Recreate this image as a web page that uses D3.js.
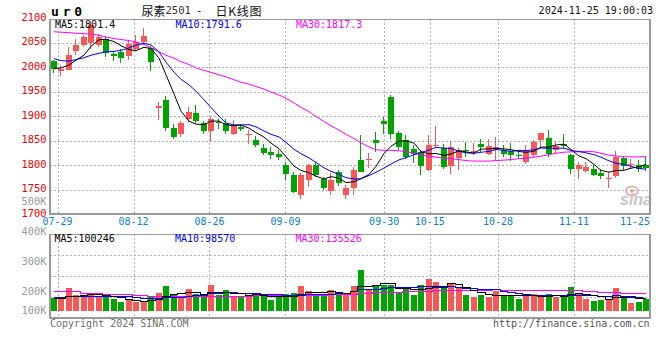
<!DOCTYPE html>
<html><head><meta charset="utf-8">
<script src="https://cdn.jsdelivr.net/npm/d3@7"></script>
<style>html,body{margin:0;padding:0;background:#fff;}svg{display:block;}</style>
</head><body><svg id="c" width="660" height="360"></svg>
<script>
// ---------- data ----------
const dates = ["07-26","07-29","07-30","07-31","08-01","08-02","08-05","08-06","08-07","08-08",
"08-09","08-12","08-13","08-14","08-15","08-16","08-19","08-20","08-21","08-22",
"08-23","08-26","08-27","08-28","08-29","08-30","09-02","09-03","09-04","09-05",
"09-06","09-09","09-10","09-11","09-12","09-13","09-18","09-19","09-20","09-23",
"09-24","09-25","09-26","09-27","09-30","10-08","10-09","10-10","10-11","10-14",
"10-15","10-16","10-17","10-18","10-21","10-22","10-23","10-24","10-25","10-28",
"10-29","10-30","10-31","11-01","11-04","11-05","11-06","11-07","11-08","11-11",
"11-12","11-13","11-14","11-15","11-18","11-19","11-20","11-21","11-22","11-25"];
const open = [2011.6,1992,1994.6,2032.7,2045.6,2049.7,2045,2057,2027,2030,
2022,2037.5,2051,2039,1917,1932,1875.6,1864,1894.6,1906,
1886,1869.4,1888,1886,1864,1877.6,1860.6,1852,1834.7,1826.6,
1821.8,1799.4,1780.3,1739.5,1770.1,1799.4,1772.2,1747,1785.8,1739.5,
1753.8,1810.9,1809.6,1851.8,1889.9,1938.8,1865.4,1850.4,1833.4,1826.6,
1790.5,1838.8,1835.4,1798,1814.3,1831.3,1827.3,1843.6,1823.2,1830,
1831.3,1827.9,1821.1,1806.2,1819.8,1850.4,1855.2,1830,1842.2,1819.8,
1792.6,1787.8,1792.6,1784.4,1772.2,1777.6,1814.3,1799.4,1799.4,1799.4];
const high = [2015,2003.5,2041,2056.5,2066,2091.9,2067,2063,2032,2037.5,
2054.5,2064.7,2079.7,2043,1928.6,1941,1883,1890,1918.4,1921.8,
1890,1898,1894.6,1893,1891,1884.4,1870.8,1858.5,1843.6,1836.8,
1830,1806.2,1785.8,1783.7,1802.8,1806.2,1775.5,1783.7,1790.5,1759.9,
1795.9,1861.9,1824.5,1867.4,1898,1942.2,1868.8,1860.6,1840.2,1830,
1861.9,1879.7,1843.6,1848.4,1834.7,1847,1845.6,1853.8,1852.4,1857.2,
1840.2,1845,1830,1840.2,1850.4,1866,1872.2,1848.4,1862.6,1823.2,
1806.2,1806.2,1799.4,1792.6,1785.8,1828.6,1816.4,1813,1810.9,1816.4];
const low = [1988.5,1981.7,1993,2025.2,2040.9,2037.5,2040,2020,2011.6,2009,
2013.7,2034,2049.7,1992,1892.6,1869.4,1852.4,1857.2,1887.8,1885.8,
1864,1849,1874.2,1862.7,1862,1869.4,1843.6,1836.8,1819.8,1813,
1809.6,1770.1,1742.9,1730,1755,1775.5,1749.7,1738.2,1756.5,1731.4,
1739.5,1785,1794.6,1826.6,1864,1853.8,1830,1813,1804.8,1780.3,
1787.1,1834.7,1792.6,1782.4,1790.5,1816.4,1819.8,1826.6,1819.8,1809.6,
1816.4,1807.5,1813,1802.8,1816.4,1834.7,1816.4,1823.2,1834.7,1782.4,
1772.2,1785.8,1777.6,1772.2,1753.8,1774.2,1789.2,1792.6,1785.8,1787.8];
const close = [1995.3,1995.3,2025.2,2044.3,2061.3,2085.1,2062,2029,2022,2019,
2046,2051,2063,2010,1920,1876,1857.2,1886,1908,1890,
1869.4,1894.6,1886,1869.4,1882.4,1874.2,1864,1840.2,1824.5,1821.1,
1816.4,1782.4,1744.9,1779,1799.4,1780.3,1753.8,1768.8,1763.3,1753.8,
1789.2,1785.8,1811.6,1845.6,1884.4,1864,1836.8,1816.4,1821.8,1798,
1840.2,1841.6,1795.9,1836.8,1830,1829.3,1829.3,1836.8,1838.8,1836.8,
1823.2,1821.1,1818.4,1830,1847,1865.4,1823.2,1838.8,1838.1,1792.6,
1799.4,1796,1780.3,1776.9,1774.2,1816.4,1798,1801.4,1792.6,1794.6];
const ma5 = [1997,1998,2004,2014,2024.3,2042.2,2055.6,2056.3,2051.9,2043.4,
2035.6,2033.4,2040.2,2037.8,2018,1984,1945.2,1909.8,1889.4,1883.4,
1882.1,1889.6,1889.6,1881.9,1880.4,1881.3,1875.2,1866,1857.1,1844.8,
1833.2,1816.9,1797.9,1788.8,1784.4,1777.2,1771.5,1776.3,1773.1,1764,
1765.8,1772.2,1780.7,1797.2,1823.3,1838.3,1848.5,1849.4,1844.7,1827.4,
1822.6,1823.6,1819.5,1822.5,1828.9,1826.7,1824.3,1832.4,1832.8,1834.2,
1833,1831.3,1827.7,1825.9,1827.9,1836.4,1836.8,1840.9,1842.5,1831.6,
1818.4,1813,1801.3,1789,1785.4,1788.8,1789.2,1793.4,1796.5,1801.4];
const ma10 = [2017,2013,2012,2015,2019,2024,2028,2031,2032,2033.9,
2038.9,2044.5,2048.3,2044.9,2030.7,2009.8,1989.3,1975,1963.6,1950.7,
1933,1917.4,1899.7,1885.7,1881.9,1881.7,1882.4,1877.8,1869.5,1862.6,
1857.3,1846.1,1832,1823,1814.6,1805.2,1794.2,1787.1,1781,1774.2,
1771.5,1771.9,1778.5,1785.2,1793.7,1802.1,1810.4,1815.1,1821,1825.4,
1830.5,1836.1,1834.5,1833.6,1828.2,1824.7,1824,1826,1827.7,1831.6,
1829.9,1827.8,1830.1,1829.4,1831.1,1834.7,1834.1,1834.3,1834.2,1829.8,
1827.4,1824.9,1821.1,1815.8,1808.5,1803.6,1801.1,1797.4,1792.8,1791.6];
const ma30 = [2072,2071,2070,2069,2068,2067,2065,2061,2058,2056,
2054,2051,2046,2039,2031,2024,2018,2011,2005,1998,
1993,1989,1984,1980,1974,1969,1965,1960,1955,1949,
1943,1936,1926.6,1917.8,1909,1899,1888.6,1880,1871.3,1862.5,
1854,1845,1837,1831,1830,1830,1829,1827,1824,1820.7,
1818,1816,1814,1813,1811,1809,1808,1808,1808,1809,
1810,1811,1813,1814,1816,1818,1821,1824,1826,1827,
1827,1828,1827,1824,1820,1818.5,1817,1816.5,1816.5,1817.3];
const volume = [100,100,177,121,108,128,108,121,88,69,
82,69,65,108,138,192,121,108,167,128,
108,198,121,159,108,108,121,136,113,82,
108,128,136,190,154,126,126,159,136,136,
190,313,165,190,198,198,138,165,121,198,
244,223,180,205,180,121,108,121,108,150,
121,121,90,128,128,108,128,108,108,185,
138,90,77,82,82,177,108,62,69,90].map(v => v * 1000);
const vma5 = [96,97,110,115,121.2,126.8,128.4,117.2,110.6,102.8,
93.6,85.8,74.6,78.6,92.4,114.4,124.8,133.4,145.2,143.2,
126.4,141.8,144.4,142.8,138.8,138.8,123.4,126.4,117.2,112,
112,113.4,113.4,128.8,143.2,146.8,146.4,151,140.2,136.6,
149.4,186.8,188,198.8,211.2,212.8,177.8,177.8,164,164,
173.2,190.2,193.2,210,206.4,181.8,158.8,147,127.6,121.6,
121.6,124.2,118,122,117.6,115,116.4,120,116,127.4,
133.4,125.8,119.6,114.4,93.8,101.6,105.2,102.2,99.6,100.246].map(v => v * 1000);
const vma10 = [108,106,110,112,113,114,115,116,116,112,
110.2,107.1,95.9,94.6,97.6,104,105.3,104,111.9,117.8,
120.4,133.3,138.9,144,141,132.6,132.6,135.4,130,125.4,
125.4,118.4,119.9,123,127.6,129.4,129.9,132.2,134.5,139.9,
148.1,166.6,169.5,169.5,173.9,181.1,182.3,182.9,181.4,187.6,
193,184,185.5,187,185.2,177.5,174.5,170.1,168.8,164,
151.7,141.5,132.5,124.8,119.6,118.3,120.3,119,119,122.5,
124.2,121.1,119.8,115.2,110.6,117.5,115.5,110.9,107,98.57].map(v => v * 1000);
const vma30 = [152,152,151,151,134,134,134,130,126,126,
126,124,120,116,116,114,112,112,112,112,
112,113,113,114,114,115,116,117,117,118,
118,119,120,122,123,124,124,125,126,128,
131,138,140,142,144,146,147,148,149,151,
154,157,158,160,161,161,161,162,163,164,
163,162,161,160,159,159,158,158,158,158,
156,152,148,145,143,141,140,138,137,135.526].map(v => v * 1000);
const priceTicks = [2100,2050,2000,1950,1900,1850,1800,1750,1700];
const volTicks = [500000,400000,300000,200000,100000];
const volTickLabels = ["500K","400K","300K","200K","100K"];
const dateTicks = ["07-29","08-12","08-26","09-09","09-30","10-15","10-28","11-11","11-25"];
const maLegend = [{t:"MA5:1801.4",c:"#000"},{t:"MA10:1791.6",c:"#0000ff"},{t:"MA30:1817.3",c:"#ff00ff"}];
const volLegend = [{t:"MA5:100246",c:"#000"},{t:"MA10:98570",c:"#0000ff"},{t:"MA30:135526",c:"#ff00ff"}];

// ---------- layout ----------
const L = 50, R = 650, PT = 19, PB = 214, VT = 234, VB = 318;
const mono = "'DejaVu Sans Mono','Liberation Mono',monospace";
const cjk = "'Noto Sans CJK SC',sans-serif";
const RED = "#f65858", GREEN = "#00a300";
const svg = d3.select("#c");

const xb = d3.scaleBand().domain(dates).range([L, R]).paddingInner(0.2).paddingOuter(0.1);
const xp = d3.scalePoint().domain(dates).range([L, R]);
const y = d3.scaleLinear().domain([1700, 2100]).range([214, 18]);
const yv = d3.scaleLinear().domain([0, 400000]).range([310.7, 258.7]);
const yvl = d3.scaleLinear().domain([100000, 500000]).range([320.5, 200.5]);
const bw = Math.round(xb.bandwidth());
const bx = d => Math.round(xb(d));
const cx = d => bx(d) + bw / 2;

const defs = svg.append("defs");
defs.append("clipPath").attr("id","cp").append("rect").attr("x",L).attr("y",PT).attr("width",R-L).attr("height",PB-PT);
defs.append("clipPath").attr("id","cv").append("rect").attr("x",L).attr("y",VT).attr("width",R-L).attr("height",VB-VT);

// ---------- grid ----------
const grid = svg.append("g").attr("stroke","#b4b4b4").attr("stroke-width",1).attr("stroke-dasharray","2,2").attr("shape-rendering","crispEdges");
grid.selectAll(".hg").data(priceTicks.filter(v => v < 2100 && v > 1700)).join("line")
  .attr("x1",L).attr("x2",R).attr("y1",d => Math.round(y(d))+0.5).attr("y2",d => Math.round(y(d))+0.5);
grid.selectAll(".vg").data(dateTicks.slice(0,-1)).join("line")
  .attr("x1",d => Math.round(xp(d))+0.5).attr("x2",d => Math.round(xp(d))+0.5).attr("y1",PT).attr("y2",PB);
grid.selectAll(".vg2").data(dateTicks.slice(0,-1)).join("line")
  .attr("x1",d => Math.round(xp(d))+0.5).attr("x2",d => Math.round(xp(d))+0.5).attr("y1",VT).attr("y2",VB);
const vq = d3.scaleLinear().domain([0,4]).range([VT,VB]);
grid.selectAll(".vh").data([1,2,3]).join("line")
  .attr("x1",L).attr("x2",R).attr("y1",d => Math.round(vq(d))+0.5).attr("y2",d => Math.round(vq(d))+0.5);

// ---------- watermark ----------
const wm = svg.append("g");
wm.append("ellipse").attr("cx",632).attr("cy",191).attr("rx",6).attr("ry",4.5).attr("fill","none").attr("stroke","#e3b3b3").attr("stroke-width",2);
wm.append("circle").attr("cx",632).attr("cy",191).attr("r",1.8).attr("fill","#d9a0a0");
wm.append("text").attr("x",652).attr("y",205).attr("text-anchor","end")
  .attr("font-family","'Liberation Sans',Arial,sans-serif").attr("font-weight","bold").attr("font-style","italic")
  .attr("font-size",16).attr("fill","#c6c6c6").text("sina");

// ---------- candles ----------
const cg = svg.append("g").attr("clip-path","url(#cp)").attr("shape-rendering","crispEdges");
const idx = d3.range(dates.length);
const col = i => close[i] >= open[i] ? RED : GREEN;
cg.selectAll(".wk").data(idx).join("rect")
  .attr("x", i => bx(dates[i]) + 2).attr("width",1)
  .attr("y", i => Math.round(y(high[i]))).attr("height", i => Math.max(1, Math.round(y(low[i])) - Math.round(y(high[i]))))
  .attr("fill", col);
cg.selectAll(".bd").data(idx).join("rect")
  .attr("x", i => bx(dates[i])).attr("width", bw)
  .attr("y", i => Math.round(y(Math.max(open[i],close[i]))))
  .attr("height", i => Math.max(1, Math.round(y(Math.min(open[i],close[i]))) - Math.round(y(Math.max(open[i],close[i])))))
  .attr("fill", col);

// ---------- price MAs ----------
const line = arr => d3.line().x((v,i) => cx(dates[i])).y(v => y(v))(arr);
const mg = svg.append("g").attr("clip-path","url(#cp)").attr("fill","none").attr("stroke-width",1);
[[ma30,"#ff00ff"],[ma10,"#0000ff"],[ma5,"#000"]].forEach(([a,c]) => mg.append("path").attr("d",line(a)).attr("stroke",c));

// ---------- volume ----------
const vg = svg.append("g").attr("clip-path","url(#cv)").attr("shape-rendering","crispEdges");
vg.selectAll(".vb").data(idx).join("rect")
  .attr("x", i => bx(dates[i])).attr("width", bw)
  .attr("y", i => Math.round(yv(volume[i]))).attr("height", i => Math.round(yv(0)) - Math.round(yv(volume[i])))
  .attr("fill", col);
const vline = arr => d3.line().curve(d3.curveStep).x((v,i) => cx(dates[i])).y(v => Math.round(yv(v))+0.5)(arr);
const vmg = svg.append("g").attr("clip-path","url(#cv)").attr("fill","none").attr("stroke-width",1).attr("shape-rendering","crispEdges");
[[vma30,"#ff00ff"],[vma10,"#0000ff"],[vma5,"#000"]].forEach(([a,c]) => vmg.append("path").attr("d",vline(a)).attr("stroke",c));

// ---------- frames ----------
const fr = svg.append("g").attr("fill","#9a9a9a").attr("shape-rendering","crispEdges");
fr.append("rect").attr("x",L).attr("y",PT).attr("width",R-L).attr("height",1);
fr.append("rect").attr("x",L-1).attr("y",PT).attr("width",2).attr("height",PB-PT+1);
fr.append("rect").attr("x",R-1).attr("y",PT).attr("width",2).attr("height",PB-PT+1);
fr.append("rect").attr("x",L-1).attr("y",PB-1).attr("width",R-L+2).attr("height",2);
fr.append("rect").attr("x",L).attr("y",VT).attr("width",R-L).attr("height",1);
fr.append("rect").attr("x",L-1).attr("y",VT).attr("width",2).attr("height",VB-VT+1);
fr.append("rect").attr("x",R-1).attr("y",VT).attr("width",2).attr("height",VB-VT+1);
fr.append("rect").attr("x",L-1).attr("y",VB-1).attr("width",R-L+2).attr("height",2);

// ---------- texts ----------
const T = (x,yy,s,opt={}) => svg.append("text").attr("x",x).attr("y",yy)
  .attr("font-family",opt.ff||mono).attr("font-size",opt.fs||10).attr("fill",opt.fill||"#000")
  .attr("text-anchor",opt.anchor||"start").attr("dominant-baseline","central")
  .attr("font-weight",opt.fw||"normal").text(s);

svg.append("g").selectAll("text").data(priceTicks).join("text")
  .attr("x",46.5).attr("y",d => y(d)-1.5).attr("text-anchor","end").attr("dominant-baseline","central")
  .attr("font-family",mono).attr("font-size",10.4).attr("fill","#ee0000").text(d => d);
svg.append("g").selectAll("text").data(volTicks).join("text")
  .attr("x",46.5).attr("y",d => Math.min(310, yvl(d))).attr("text-anchor","end").attr("dominant-baseline","central")
  .attr("font-family",mono).attr("font-size",10.4).attr("fill","#9a9a9a").text((d,i) => volTickLabels[i]);
svg.append("g").selectAll("text").data(dateTicks).join("text")
  .attr("x",(d,i) => i === dateTicks.length-1 ? R : xp(d)).attr("y",221.5)
  .attr("text-anchor",(d,i) => i === dateTicks.length-1 ? "end" : "middle").attr("dominant-baseline","central")
  .attr("font-family",mono).attr("font-size",10).attr("fill","#0a80d0").text(d => d);

const legX = [55, 175.5, 296];
maLegend.forEach((m,i) => T(legX[i], 24.5, m.t, {fill:m.c}));
volLegend.forEach((m,i) => T(legX[i]-0.5, 238.5, m.t, {fill:m.c}));

T(51, 11, "ur0", {fs:13, fw:"bold"}).attr("letter-spacing",3.8);
// title pieces placed at their own x positions
T(141.5, 10, "尿素", {ff:cjk, fs:12, fill:"#111"});
T(165.5, 10, "2501", {fs:10.5, fill:"#333"});
T(196, 10, "-", {fs:10.5, fill:"#111"});
T(215.5, 10, "日K线图", {ff:cjk, fs:12, fill:"#111"}).attr("textLength",46).attr("lengthAdjust","spacing");
T(653, 10.5, "2024-11-25 19:00:03", {fill:"#111", anchor:"end"});
T(50, 323.5, "Copyright 2024 SINA.COM", {fill:"#707070"});
T(649.5, 323.5, "http://finance.sina.com.cn", {fill:"#555", anchor:"end"});
</script></body></html>
